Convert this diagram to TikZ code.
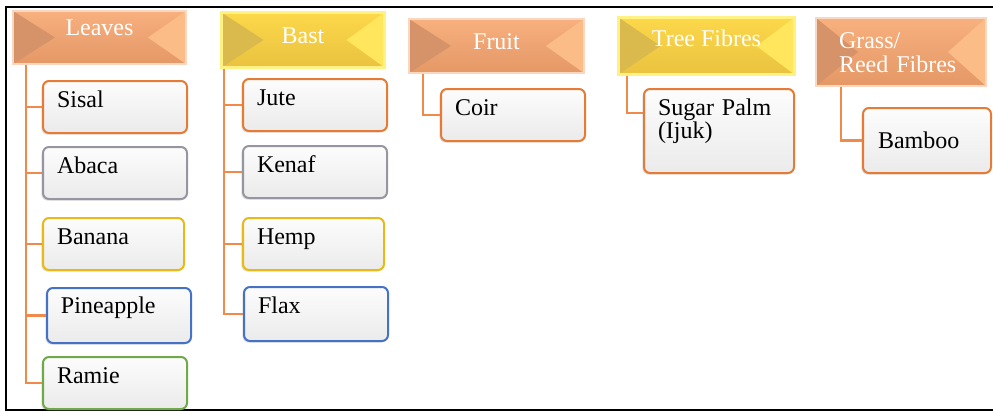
\documentclass[tikz,border=0pt]{standalone}
\usepackage{fontspec}
\setmainfont{Liberation Serif}
\usetikzlibrary{shadows}

\definecolor{headorange}{RGB}{242,166,114}
\definecolor{orangetop}{RGB}{247,176,126}
\definecolor{orangebottom}{RGB}{228,152,102}
\definecolor{orangedark}{RGB}{214,146,104}
\definecolor{orangelight}{RGB}{252,188,136}
\definecolor{yellowtop}{RGB}{252,216,74}
\definecolor{yellowbottom}{RGB}{234,194,64}
\definecolor{yellowdark}{RGB}{218,186,76}
\definecolor{yellowlight}{RGB}{255,230,92}
\definecolor{yellowglow}{RGB}{255,242,130}
\definecolor{linkorange}{RGB}{240,138,75}
\definecolor{edgeorange}{RGB}{228,124,56}
\definecolor{edgegray}{RGB}{150,150,162}
\definecolor{edgegold}{RGB}{232,186,24}
\definecolor{edgeblue}{RGB}{70,114,198}
\definecolor{edgegreen}{RGB}{112,170,72}

\begin{document}
\begin{tikzpicture}[x=0.5pt,y=-0.5pt,
    every node/.style={font=\fontsize{12pt}{12pt}\selectfont},
    head/.style={anchor=north west,inner sep=0pt,text=white,align=center,text height=8pt,text depth=6pt},
    bevel/.style 2 args={path picture={
        \fill[#1] (path picture bounding box.north west) -- ([xshift=21pt]path picture bounding box.west)
            -- (path picture bounding box.south west) -- cycle;
        \fill[#2] (path picture bounding box.north east) -- ([xshift=-19pt]path picture bounding box.east)
            -- (path picture bounding box.south east) -- cycle;
    }},
    orangehead/.style={head,top color=orangetop,bottom color=orangebottom,draw=headorange!45,line width=1pt,bevel={orangedark}{orangelight}},
    yellowhead/.style={head,top color=yellowtop,bottom color=yellowbottom,draw=yellowglow,line width=1.5pt,bevel={yellowdark}{yellowlight}},
    fibre/.style={draw=#1,line width=1pt,rounded corners=3pt,top color=black!1,bottom color=black!8,
        anchor=north west,align=left,text width=58pt,inner xsep=7pt,inner ysep=5pt,
        text height=8pt,text depth=8pt,
        drop shadow={opacity=0.25,shadow xshift=-0.8pt,shadow yshift=-0.8pt}},
    branch/.style={draw=linkorange,line width=1.1pt},
    ]
    \useasboundingbox (0,0) rectangle (993,412);
    \draw[line width=1pt] (993,7) -- (6,7) -- (6,410) -- (993,410);

    % groups
    \node[orangehead,minimum width=86.5pt,minimum height=26.5pt,text depth=10pt] (leaves) at (12,10) {Leaves};
    \node[yellowhead,minimum width=81.5pt,minimum height=27.5pt,text depth=4pt] (bast) at (220,11) {Bast};
    \node[orangehead,minimum width=87.5pt,minimum height=27pt,text depth=5pt] (fruit) at (408,18) {Fruit};
    \node[yellowhead,minimum width=88pt,minimum height=28.5pt,text depth=7.5pt] (tree) at (617,16) {Tree Fibres};
    \node[orangehead,minimum width=85pt,minimum height=34pt,text width=62pt,inner xsep=11.5pt,align=left,text depth=12pt] (grass) at (815,17) {Grass/\\Reed Fibres};

    % leaves
    \node[fibre=edgeorange] (sisal) at (42,80) {Sisal};
    \node[fibre=edgegray] (abaca) at (42,146) {Abaca};
    \node[fibre=edgegold,text width=56.5pt] (banana) at (42,217) {Banana};
    \node[fibre=edgeblue,text depth=9.5pt] (pineapple) at (46,287) {Pineapple};
    \node[fibre=edgegreen] (ramie) at (42,356) {Ramie};

    % bast
    \node[fibre=edgeorange] (jute) at (242,78) {Jute};
    \node[fibre=edgegray] (kenaf) at (242,145) {Kenaf};
    \node[fibre=edgegold,text width=56.5pt] (hemp) at (242,217) {Hemp};
    \node[fibre=edgeblue,text depth=9pt] (flax) at (243,286) {Flax};

    % fruit, tree, grass
    \node[fibre=edgeorange] (coir) at (440,88) {Coir};
    \node[fibre=edgeorange,text width=61pt,text depth=24pt] (sugar) at (643,88) {Sugar Palm\\(Ijuk)};
    \node[fibre=edgeorange,text width=49pt,inner xsep=7.5pt,text depth=0pt,minimum height=32.5pt] (bamboo) at (862,107) {Bamboo};

    % links
    \foreach \c in {sisal,abaca,banana,pineapple,ramie}
        \draw[branch] ([xshift=7pt]leaves.south west) |- (\c.west);
    \foreach \c in {jute,kenaf,hemp,flax}
        \draw[branch] ([xshift=2pt]bast.south west) |- (\c.west);
    \draw[branch] ([xshift=7.5pt]fruit.south west) |- (coir.west);
    \draw[branch] ([xshift=5pt]tree.south west) |- ([yshift=9pt]sugar.west);
    \draw[branch] ([xshift=13pt]grass.south west) |- (bamboo.west);
\end{tikzpicture}
\end{document}
